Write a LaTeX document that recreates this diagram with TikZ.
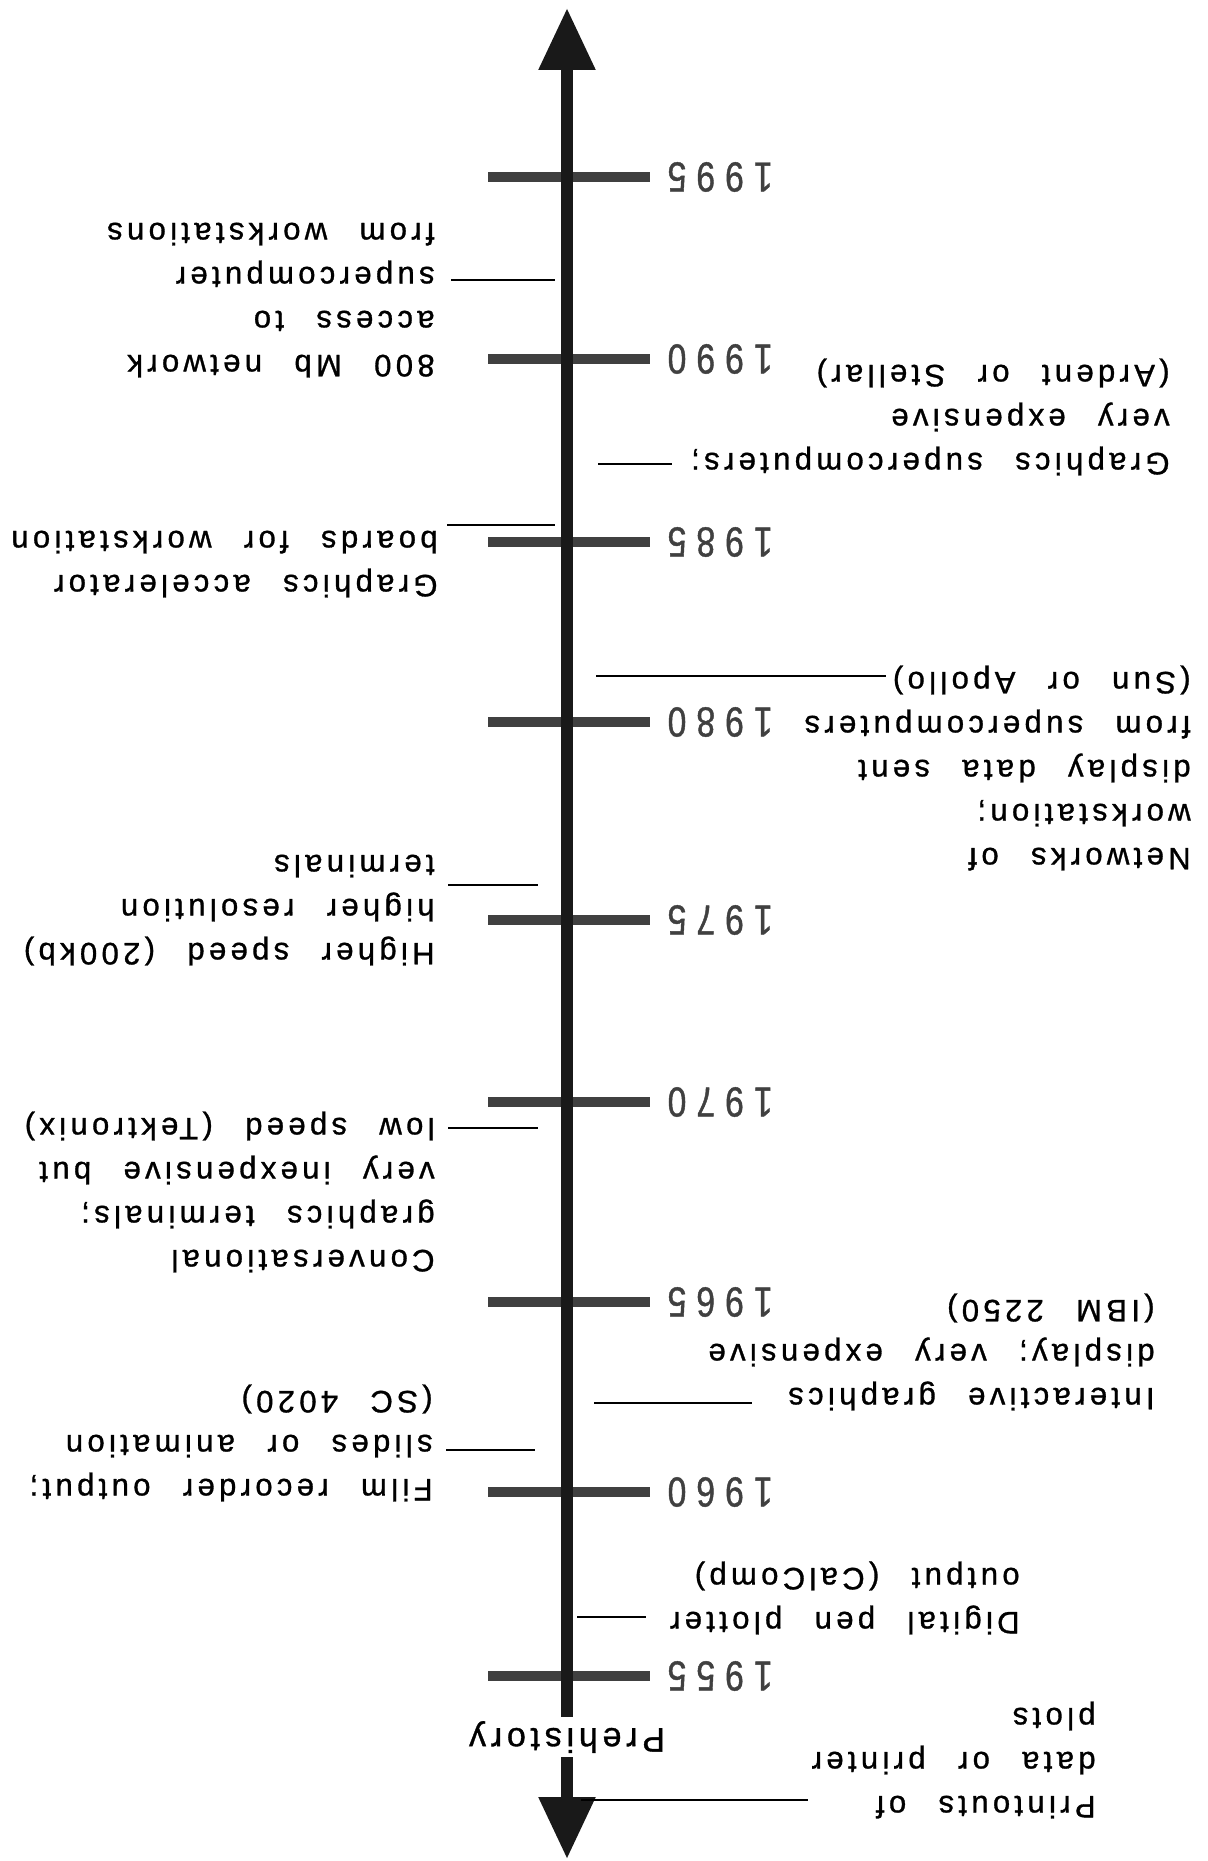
\documentclass[tikz,border=0pt]{standalone}
\usepackage{fontspec}
\setmainfont{Liberation Sans}
\newfontfamily\notefont{Liberation Sans}[LetterSpace=14,WordSpace=2.5,FakeBold=1]
\newfontfamily\yearfont{Liberation Sans}[FakeStretch=0.8,LetterSpace=24,FakeBold=1]
\usetikzlibrary{arrows.meta}
\tikzset{
  note/.style={rotate=180, align=left, anchor=base west, inner sep=0pt,
    font=\notefont\fontsize{15.5}{22}\selectfont},
  tickbar/.style={line width=5pt, black!75},
  leader/.style={line width=1pt},
  axisline/.style={line width=6pt, black!90,
    arrows={Triangle[width=27pt,length=31pt]-Triangle[width=27pt,length=31pt]}},
  yearlabel/.style={rotate=180, anchor=west, inner sep=0pt, black!75,
    font=\yearfont\fontsize{21}{21}\selectfont},
}
\def\yeartick(#1,#2){
  \draw[tickbar] (488,#1) -- (650,#1);
  \node[yearlabel] (y#2) at (773,#1) {#2};
}

\begin{document}
\begin{tikzpicture}[x=0.5pt,y=-0.5pt]
\useasboundingbox (0,0) rectangle (1207,1861);
\yeartick(177,1995)
\yeartick(359,1990)
\yeartick(542,1985)
\yeartick(722,1980)
\yeartick(920,1975)
\yeartick(1102,1970)
\yeartick(1302,1965)
\yeartick(1492,1960)
\yeartick(1676,1955)
\draw[axisline] (567,1859) -- (567,8);
\node[note, font=\notefont\fontsize{17}{22}\selectfont, anchor=center, fill=white, inner sep=2pt] (prehist) at (567,1737) {Prehistory};

\node[note] (netw) at (435,223) {800 Mb network\\access to\\supercomputer\\from workstations};
\node[note] (accel) at (438,531) {Graphics accelerator\\boards for workstation};
\node[note] (speed) at (435,855) {Higher speed (200kb)\\higher resolution\\terminals};
\node[note] (conv) at (435,1118) {Conversational\\graphics terminals;\\very inexpensive but\\low speed (Tektronix)};
\node[note] (film) at (433,1391) {Film recorder output;\\slides or animation\\(SC 4020)};
\node[note] (super) at (1170,365) {Graphics supercomputers;\\very expensive\\(Ardent or Stellar)};
\node[note] (works) at (1191,672) {Networks of\\workstation;\\display data sent\\from supercomputers\\(Sun or Apollo)};
\node[note] (inter) at (1155,1300) {Interactive graphics\\display; very expensive\\(IBM 2250)};
\node[note] (pen) at (1020,1568) {Digital pen plotter\\output (CalComp)};
\node[note] (print) at (1096,1708) {Printouts of\\data or printer\\plots};

\foreach \n/\xa/\xb/\yy in {netw/451/555/280, accel/447/555/525, speed/448/538/885,
    conv/448/538/1128, film/446/535/1450, super/598/672/464, works/596/886/676,
    inter/594/752/1403, pen/577/646/1617, print/581/808/1800}{
  \coordinate (\n-a) at (\xa,\yy);
  \coordinate (\n-b) at (\xb,\yy);
  \draw[leader] (\n-a) -- (\n-b);
}
\end{tikzpicture}
\end{document}
